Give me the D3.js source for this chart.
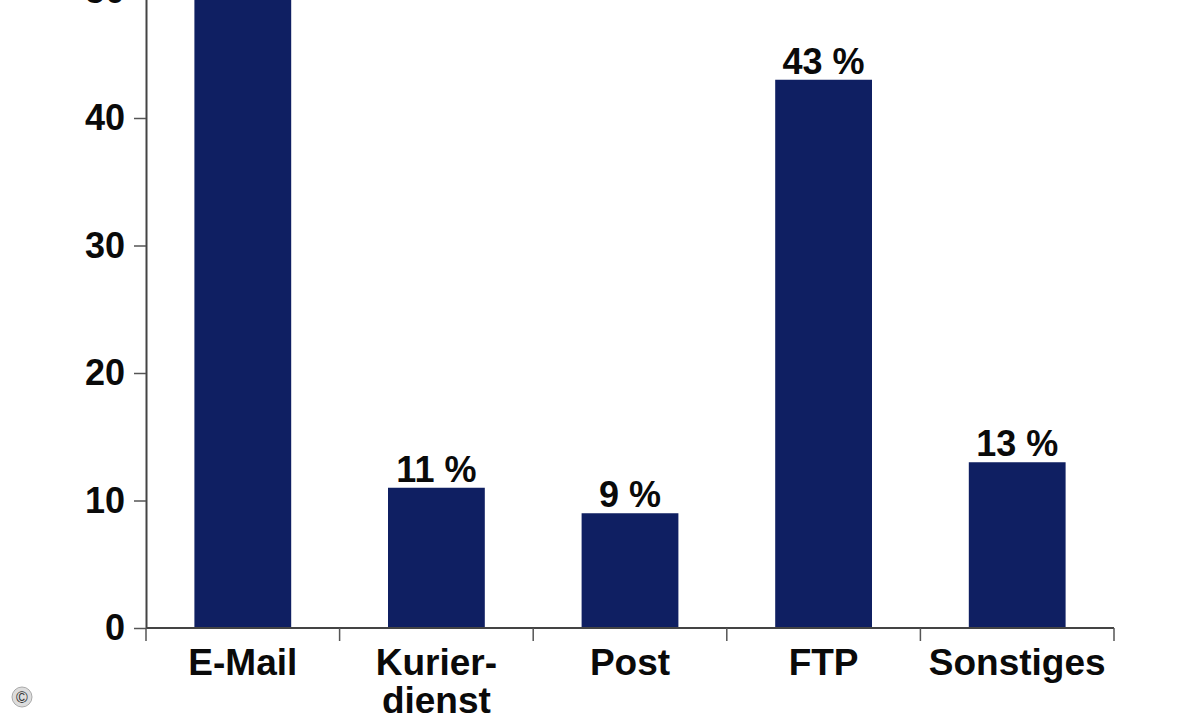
<!DOCTYPE html>
<html><head><meta charset="utf-8">
<script src="https://cdn.jsdelivr.net/npm/d3@7"></script>
<style>html,body{margin:0;padding:0;background:#fff;overflow:hidden}</style>
</head><body>
<svg id="c" width="1200" height="720"></svg>
<script>
const categories = [["E-Mail"], ["Kurier-", "dienst"], ["Post"], ["FTP"], ["Sonstiges"]];
const values = [62, 11, 9, 43, 13];
const valueLabels = ["62 %", "11 %", "9 %", "43 %", "13 %"];
const yTicks = [0, 10, 20, 30, 40, 50];

const svg = d3.select("#c");
const x0 = 146, x1 = 1114, yZero = 628, yTop = -9.5;
const x = d3.scaleBand().domain(d3.range(categories.length)).range([x0, x1]).paddingInner(0).paddingOuter(0);
const y = d3.scaleLinear().domain([0, 50]).range([yZero, yTop]);
const font = "'Liberation Sans', Arial, sans-serif";
const barColor = "#0f1f62";
const bw = x.bandwidth() * 0.5;

svg.selectAll("rect.bar").data(values).enter().append("rect")
  .attr("x", (d, i) => x(i) + (x.bandwidth() - bw) / 2)
  .attr("width", bw)
  .attr("y", d => y(d))
  .attr("height", d => yZero - y(d))
  .attr("fill", barColor);

svg.selectAll("text.val").data(values).enter().append("text")
  .attr("x", (d, i) => x(i) + x.bandwidth() / 2)
  .attr("y", d => y(d) - 6)
  .attr("text-anchor", "middle")
  .attr("font-family", font).attr("font-weight", "bold").attr("font-size", 36)
  .attr("fill", "#0a0a0a")
  .text((d, i) => valueLabels[i]);

// y axis
const yAxis = svg.append("g").attr("transform", `translate(${x0},0)`)
  .call(d3.axisLeft(y).tickValues(yTicks).tickSize(12).tickPadding(9).tickSizeOuter(0));
yAxis.select(".domain").attr("stroke", "#444").attr("stroke-width", 2);
yAxis.selectAll(".tick line").attr("stroke", "#555").attr("stroke-width", 1.5);
yAxis.selectAll(".tick text").attr("font-family", font).attr("font-weight", "bold").attr("font-size", 36).attr("fill", "#0a0a0a");

// x axis
const xAxis = svg.append("g").attr("transform", `translate(0,${yZero})`);
const boundaries = d3.range(categories.length + 1).map(i => x0 + i * x.step());
xAxis.append("line").attr("x1", x0).attr("x2", x1).attr("y1", 0).attr("y2", 0).attr("stroke", "#444").attr("stroke-width", 2);
xAxis.selectAll("line.tk").data(boundaries).enter().append("line")
  .attr("x1", d => d).attr("x2", d => d).attr("y1", 0).attr("y2", 13)
  .attr("stroke", "#555").attr("stroke-width", 1.5);
categories.forEach((lines, i) => {
  const t = xAxis.append("text")
    .attr("x", x(i) + x.bandwidth() / 2).attr("y", 47)
    .attr("text-anchor", "middle")
    .attr("font-family", font).attr("font-weight", "bold").attr("font-size", 37).attr("fill", "#0a0a0a");
  lines.forEach((l, j) => t.append("tspan").attr("x", x(i) + x.bandwidth() / 2).attr("dy", j === 0 ? 0 : 38).text(l));
});

// copyright mark
svg.append("circle").attr("cx", 22).attr("cy", 697).attr("r", 10).attr("fill", "#ddd").attr("stroke", "#aaa");
svg.append("text").attr("x", 22).attr("y", 703).attr("text-anchor", "middle")
  .attr("font-family", font).attr("font-size", 16).attr("fill", "#333").text("©");
</script>
</body></html>
